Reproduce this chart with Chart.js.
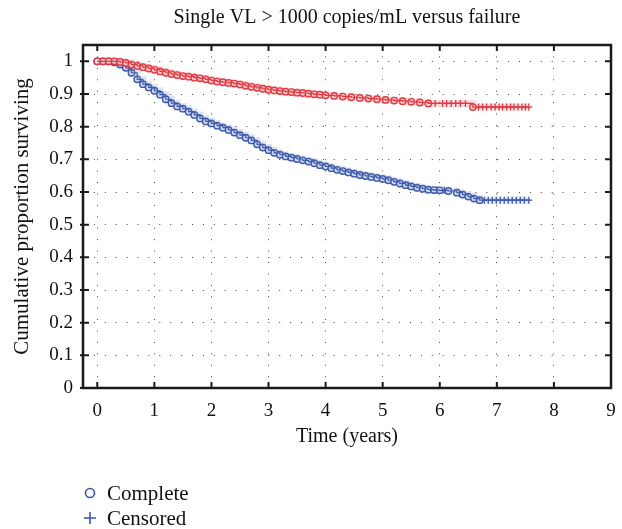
<!DOCTYPE html>
<html>
<head>
<meta charset="utf-8">
<script src="https://cdn.jsdelivr.net/npm/chart.js@4.4.1/dist/chart.umd.min.js"></script>
<style>
  html, body { margin: 0; padding: 0; background: #fff; }
</style>
</head>
<body>
<canvas id="myChart" width="622" height="529"></canvas>
<script>
// chart text
let titleText = "Single VL > 1000 copies/mL versus failure";
let xTitle = "Time (years)";
let yTitle = "Cumulative proportion surviving";
let legendLabels = ["Complete", "Censored"];

let xTicks = [0, 1, 2, 3, 4, 5, 6, 7, 8, 9];
let yTicks = [0, 0.1, 0.2, 0.3, 0.4, 0.5, 0.6, 0.7, 0.8, 0.9, 1];
let yTickLabels = ["0", "0.1", "0.2", "0.3", "0.4", "0.5", "0.6", "0.7", "0.8", "0.9", "1"];

// red curve: complete (event) points
let redTime = [0, 0.1, 0.2, 0.3, 0.4, 0.5, 0.6, 0.7, 0.8, 0.9, 1.0, 1.1, 1.2, 1.3, 1.4, 1.5, 1.6, 1.7, 1.8, 1.9,
  2.0, 2.1, 2.2, 2.3, 2.4, 2.5, 2.6, 2.7, 2.8, 2.9, 3.0, 3.1, 3.2, 3.3, 3.4, 3.5, 3.6, 3.7, 3.8, 3.9,
  4.0, 4.15, 4.3, 4.45, 4.6, 4.75, 4.9, 5.05, 5.2, 5.35, 5.5, 5.65, 5.8, 6.58];
let redSurv = [1, 1, 1, 1, 0.998, 0.995, 0.99, 0.986, 0.982, 0.978, 0.974, 0.969, 0.965, 0.961, 0.958, 0.955, 0.953, 0.95, 0.948, 0.945,
  0.941, 0.938, 0.936, 0.934, 0.932, 0.929, 0.925, 0.922, 0.919, 0.916, 0.913, 0.911, 0.909, 0.907, 0.906, 0.904, 0.903, 0.901, 0.899, 0.898,
  0.896, 0.894, 0.892, 0.89, 0.888, 0.886, 0.884, 0.882, 0.88, 0.878, 0.876, 0.874, 0.871, 0.86];
// red curve: censored points
let redCensTime = [5.92, 6.05, 6.12, 6.2, 6.28, 6.36, 6.45, 6.68, 6.75, 6.82, 6.9, 6.97, 7.04, 7.1, 7.17, 7.24, 7.3, 7.37, 7.44, 7.5, 7.56];
let redCensSurv = [0.871, 0.871, 0.871, 0.871, 0.871, 0.871, 0.871, 0.86, 0.86, 0.86, 0.86, 0.86, 0.86, 0.86, 0.86, 0.86, 0.86, 0.86, 0.86, 0.86, 0.86];

// blue curve: complete (event) points
let blueTime = [0, 0.1, 0.2, 0.3, 0.4, 0.5, 0.6, 0.7, 0.8, 0.9, 1.0, 1.1, 1.2, 1.3, 1.4, 1.5, 1.6, 1.7, 1.8, 1.9,
  2.0, 2.1, 2.2, 2.3, 2.4, 2.5, 2.6, 2.7, 2.8, 2.9, 3.0, 3.1, 3.2, 3.3, 3.4, 3.5, 3.6, 3.7, 3.8, 3.9,
  4.0, 4.1, 4.2, 4.3, 4.4, 4.5, 4.6, 4.7, 4.8, 4.9, 5.0, 5.1, 5.2, 5.3, 5.4, 5.5, 5.6, 5.7, 5.8, 5.9,
  6.0, 6.15, 6.3, 6.4, 6.5, 6.6, 6.7];
let blueSurv = [1, 1, 1, 0.997, 0.99, 0.98, 0.965, 0.945, 0.93, 0.92, 0.91, 0.898, 0.884, 0.872, 0.862, 0.855, 0.846, 0.836, 0.825, 0.816,
  0.81, 0.803, 0.797, 0.79, 0.782, 0.774, 0.766, 0.758, 0.746, 0.736, 0.728, 0.72, 0.714, 0.709, 0.705, 0.701, 0.697, 0.693, 0.688, 0.682,
  0.678, 0.673, 0.668, 0.664, 0.66, 0.656, 0.652, 0.649, 0.646, 0.643, 0.64, 0.636, 0.631, 0.626, 0.621, 0.617, 0.613, 0.61, 0.607, 0.606,
  0.605, 0.603, 0.598, 0.592, 0.586, 0.58, 0.575];
// blue curve: censored points
let blueCensTime = [4.62, 5.45, 5.95, 6.08, 6.78, 6.85, 6.92, 6.99, 7.06, 7.13, 7.2, 7.27, 7.34, 7.41, 7.48, 7.56];
let blueCensSurv = [0.652, 0.621, 0.606, 0.605, 0.575, 0.575, 0.575, 0.575, 0.575, 0.575, 0.575, 0.575, 0.575, 0.575, 0.575, 0.575];

let redColor = "#e2303a";
let blueColor = "#34509f";

function toPoints(t, s) {
  let pts = [];
  for (let i = 0; i < t.length; i++) {
    pts.push({ x: t[i], y: s[i] });
  }
  return pts;
}

function stepPoints(t, s, ct, cs) {
  let pts = toPoints(t, s).concat(toPoints(ct, cs));
  pts.sort(function (a, b) { return a.x - b.x; });
  return pts;
}

function lineSet(pts, color, width) {
  return {
    data: pts, showLine: true, stepped: true, borderColor: color, borderWidth: width,
    pointRadius: 0, fill: false
  };
}

// frame, inward tick marks and the marker key
let framePlugin = {
  id: "frame",
  afterDatasetsDraw(chart) {
    let ctx = chart.ctx;
    let a = chart.chartArea;
    let xs = chart.scales.x;
    let ys = chart.scales.y;
    ctx.save();
    ctx.strokeStyle = "#1a1a1a";
    ctx.lineWidth = 2.5;
    ctx.strokeRect(a.left, a.top, a.right - a.left, a.bottom - a.top);
    ctx.lineWidth = 2;
    ctx.beginPath();
    xTicks.forEach(function (v) {
      let px = xs.getPixelForValue(v);
      ctx.moveTo(px, a.top); ctx.lineTo(px, a.top + 6);
      ctx.moveTo(px, a.bottom); ctx.lineTo(px, a.bottom - 6);
    });
    yTicks.forEach(function (v) {
      let py = ys.getPixelForValue(v);
      ctx.moveTo(a.left - 3, py); ctx.lineTo(a.left + 6, py);
      ctx.moveTo(a.right, py); ctx.lineTo(a.right - 6, py);
    });
    ctx.stroke();

    // key
    ctx.strokeStyle = "#3b56a8";
    ctx.lineWidth = 1.6;
    ctx.beginPath();
    ctx.arc(90, 493, 4.5, 0, Math.PI * 2);
    ctx.stroke();
    ctx.beginPath();
    ctx.moveTo(84, 518); ctx.lineTo(96, 518);
    ctx.moveTo(90, 512); ctx.lineTo(90, 524);
    ctx.stroke();
    ctx.fillStyle = "#111";
    ctx.font = "21px 'Liberation Serif', serif";
    ctx.textBaseline = "middle";
    ctx.fillText(legendLabels[0], 107, 494);
    ctx.fillText(legendLabels[1], 107, 519);
    ctx.restore();
  }
};

Chart.defaults.font.family = "'Liberation Serif', serif";
Chart.defaults.font.size = 19;
Chart.defaults.color = "#111";

let redLine = stepPoints(redTime, redSurv, redCensTime, redCensSurv);
let blueLine = stepPoints(blueTime, blueSurv, blueCensTime, blueCensSurv);

let chart = new Chart("myChart", {
  type: "scatter",
  data: {
    datasets: [
      lineSet(redLine, "rgba(235,90,100,0.22)", 7),
      lineSet(redLine, redColor, 1.2),
      {
        label: legendLabels[0], data: toPoints(redTime, redSurv), pointStyle: "circle",
        pointRadius: 3.2, borderColor: redColor, backgroundColor: "rgba(255,236,236,0.9)", pointBorderWidth: 1.4
      },
      {
        label: legendLabels[1], data: toPoints(redCensTime, redCensSurv), pointStyle: "cross",
        pointRadius: 3.5, borderColor: redColor, pointBorderWidth: 1.3
      },
      lineSet(blueLine, "rgba(110,135,210,0.22)", 7),
      lineSet(blueLine, blueColor, 1.2),
      {
        label: legendLabels[0], data: toPoints(blueTime, blueSurv), pointStyle: "circle",
        pointRadius: 3.2, borderColor: blueColor, backgroundColor: "rgba(228,233,250,0.9)", pointBorderWidth: 1.4
      },
      {
        label: legendLabels[1], data: toPoints(blueCensTime, blueCensSurv), pointStyle: "cross",
        pointRadius: 3.5, borderColor: blueColor, pointBorderWidth: 1.3
      }
    ]
  },
  options: {
    responsive: false,
    animation: false,
    events: [],
    layout: { padding: { left: 0, right: 11, top: 0, bottom: 80 } },
    plugins: {
      legend: { display: false },
      tooltip: { enabled: false },
      title: {
        display: true, text: titleText, fullSize: false,
        font: { size: 20, weight: "normal" }, color: "#111",
        padding: { top: 6, bottom: 15 }
      }
    },
    scales: {
      x: {
        type: "linear", min: -0.25, max: 9,
        afterBuildTicks: function (s) { s.ticks = xTicks.map(function (v) { return { value: v }; }); },
        afterFit: function (s) { s.height = 61; s.paddingLeft = 0; s.paddingRight = 0; },
        ticks: { padding: 12, color: "#111", callback: function (v) { return String(v); } },
        grid: { color: "#444", lineWidth: 1, drawTicks: false },
        border: { display: false, dash: [1, 10.42] },
        title: { display: true, text: xTitle, color: "#111", font: { size: 20 }, padding: { top: 0, bottom: 0 } }
      },
      y: {
        type: "linear", min: 0, max: 1.05,
        afterBuildTicks: function (s) { s.ticks = yTicks.map(function (v) { return { value: v }; }); },
        afterFit: function (s) { s.width = 83; s.paddingTop = 0; s.paddingBottom = 0; },
        ticks: {
          padding: 10, color: "#111",
          callback: function (v) { let i = yTicks.indexOf(v); return i >= 0 ? yTickLabels[i] : ""; }
        },
        grid: { color: "#444", lineWidth: 1, drawTicks: false },
        border: { display: false, dash: [1, 9.9] },
        title: { display: true, text: yTitle, color: "#111", font: { size: 21 }, padding: { top: 10, bottom: 0 } }
      }
    }
  },
  plugins: [framePlugin]
});
</script>
</body>
</html>
